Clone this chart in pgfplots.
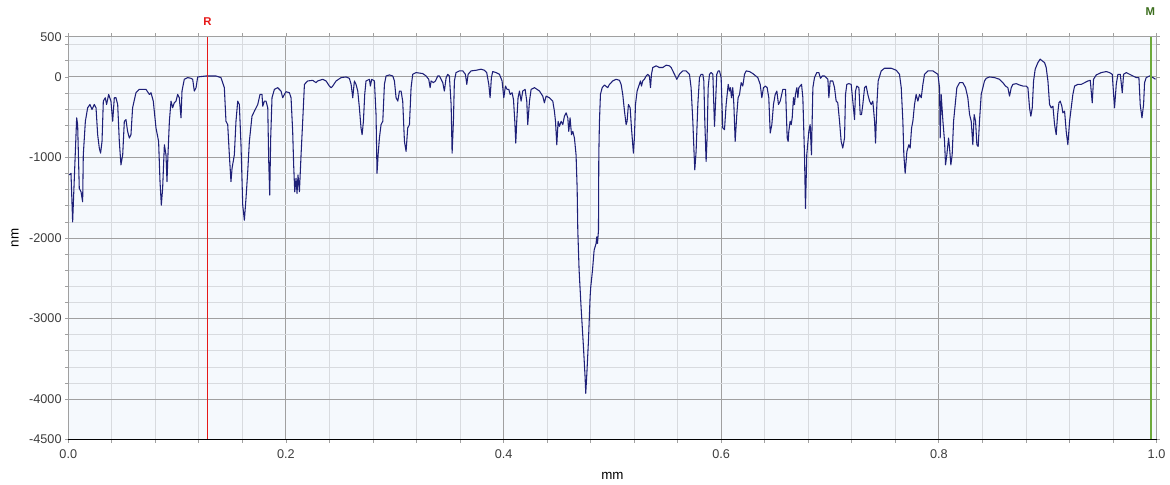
\documentclass[border=0pt]{standalone}
\usepackage{fontspec}
\setmainfont{Liberation Sans}
\usepackage{pgfplots}
\pgfplotsset{compat=1.18}
\usetikzlibrary{calc}
\definecolor{prof}{RGB}{30,32,120}
\definecolor{rred}{RGB}{230,25,25}
\definecolor{mgreen}{RGB}{110,170,60}
\definecolor{mtext}{RGB}{60,110,30}
\definecolor{bgblue}{RGB}{245,249,253}
\definecolor{gridmaj}{RGB}{160,160,160}
\definecolor{gridmin}{RGB}{216,219,223}
\definecolor{labgray}{RGB}{60,60,60}
\begin{document}
\begin{tikzpicture}
\begin{axis}[
  scale only axis, width=816pt, height=302pt,
  xmin=0, xmax=1, ymin=-4500, ymax=500,
  xtick={0,0.2,0.4,0.6,0.8,1},
  xticklabels={0.0,0.2,0.4,0.6,0.8,1.0},
  minor xtick={0.04,0.08,0.12,0.16,0.24,0.28,0.32,0.36,0.44,0.48,0.52,0.56,0.64,0.68,0.72,0.76,0.84,0.88,0.92,0.96},
  ytick={-4500,-4000,-3000,-2000,-1000,0,500},
  yticklabels={-4500,-4000,-3000,-2000,-1000,0,500},
  minor ytick={-3800,-3600,-3400,-3200,-2800,-2600,-2400,-2200,-1800,-1600,-1400,-1200,-800,-600,-400,-200,200,400},
  grid=both,
  major grid style={color=gridmaj, line width=0.8pt},
  minor grid style={color=gridmin, line width=0.6pt},
  axis background/.style={fill=bgblue},
  axis line style={gridmaj, line width=0.8pt},
  tick align=outside, major tick length=2.5pt, minor tick length=2.5pt,
  tick style={gridmaj, line width=0.6pt},
  tick label style={font=\fontsize{9.5}{11}\selectfont, text=labgray},
  /pgf/number format/assume math mode=true,
  xticklabel style={yshift=-2pt},
  yticklabel style={xshift=1pt},
  xlabel={mm}, ylabel={nm},
  label style={font=\fontsize{9}{11}\selectfont, text=labgray},
  every axis x label/.style={at={(axis description cs:0.5,0)}, anchor=center, yshift=-27pt},
  every axis y label/.style={at={(axis description cs:0,0.5)}, xshift=-40pt, anchor=center, rotate=90},
  clip=false,
]
\coordinate (A) at (rel axis cs:0,0);
\coordinate (B) at (rel axis cs:1,1);
\addplot[prof, line width=0.8pt, line join=round] table {
x y
0.0009 -1217
0.0025 -1196
0.0040 -1800
0.0077 -508
0.0086 -592
0.0101 -1383
0.0117 -1425
0.0132 -1550
0.0138 -967
0.0157 -550
0.0178 -383
0.0199 -342
0.0218 -404
0.0239 -342
0.0255 -383
0.0270 -717
0.0285 -883
0.0297 -946
0.0310 -800
0.0322 -300
0.0340 -258
0.0352 -342
0.0371 -217
0.0392 -300
0.0408 -550
0.0423 -258
0.0438 -258
0.0454 -342
0.0469 -800
0.0484 -1092
0.0500 -967
0.0515 -550
0.0530 -529
0.0545 -675
0.0561 -758
0.0576 -717
0.0591 -383
0.0622 -196
0.0653 -154
0.0714 -154
0.0745 -217
0.0760 -196
0.0781 -300
0.0806 -633
0.0830 -800
0.0843 -1300
0.0855 -1592
0.0867 -1383
0.0883 -842
0.0898 -967
0.0907 -1300
0.0916 -967
0.0929 -550
0.0944 -300
0.0959 -383
0.0974 -321
0.0990 -300
0.1005 -217
0.1020 -258
0.1036 -508
0.1045 -175
0.1066 -29
0.1097 -8
0.1128 -17
0.1143 -29
0.1158 -175
0.1174 -133
0.1189 0
0.1266 12
0.1357 12
0.1403 -8
0.1434 -133
0.1449 -550
0.1465 -592
0.1480 -967
0.1495 -1300
0.1505 -1133
0.1526 -967
0.1541 -550
0.1557 -300
0.1572 -342
0.1587 -842
0.1603 -1592
0.1618 -1779
0.1633 -1508
0.1649 -1175
0.1664 -800
0.1688 -488
0.1710 -425
0.1741 -342
0.1762 -217
0.1780 -217
0.1787 -363
0.1802 -300
0.1817 -300
0.1833 -383
0.1842 -1050
0.1851 -1467
0.1860 -758
0.1872 -258
0.1894 -154
0.1924 -133
0.1955 -175
0.1970 -258
0.1986 -217
0.2001 -183
0.2032 -196
0.2047 -258
0.2062 -675
0.2071 -1092
0.2081 -1425
0.2093 -1258
0.2102 -1446
0.2111 -1217
0.2124 -1425
0.2139 -967
0.2154 -550
0.2170 -92
0.2200 -50
0.2246 -42
0.2277 -71
0.2292 -50
0.2338 -29
0.2369 -50
0.2399 -113
0.2415 -133
0.2430 -113
0.2461 -50
0.2507 -8
0.2553 0
0.2583 -17
0.2599 -92
0.2614 -258
0.2629 -50
0.2644 -92
0.2660 -175
0.2675 -383
0.2690 -633
0.2700 -717
0.2712 -550
0.2724 -217
0.2736 -50
0.2767 -29
0.2776 -113
0.2788 -29
0.2813 -50
0.2828 -467
0.2837 -1196
0.2847 -967
0.2859 -758
0.2874 -592
0.2890 -550
0.2905 -92
0.2920 12
0.2951 25
0.2982 12
0.2997 -50
0.3012 -258
0.3028 -300
0.3043 -175
0.3058 -175
0.3073 -300
0.3089 -800
0.3104 -925
0.3119 -633
0.3135 -592
0.3150 -133
0.3165 33
0.3196 54
0.3257 42
0.3288 12
0.3312 -29
0.3325 -133
0.3334 -50
0.3355 -71
0.3374 -50
0.3395 12
0.3410 12
0.3426 -29
0.3441 -71
0.3456 -175
0.3472 -8
0.3487 33
0.3502 12
0.3518 -342
0.3527 -946
0.3539 -550
0.3548 -50
0.3563 54
0.3594 75
0.3625 75
0.3649 33
0.3662 -92
0.3674 33
0.3701 75
0.3747 83
0.3793 96
0.3824 83
0.3845 54
0.3864 -92
0.3876 -258
0.3888 -8
0.3900 67
0.3931 54
0.3962 33
0.3986 -50
0.4002 -258
0.4017 -113
0.4032 -154
0.4048 -154
0.4060 -217
0.4078 -196
0.4091 -279
0.4103 -550
0.4112 -821
0.4121 -550
0.4133 -258
0.4146 -175
0.4161 -300
0.4176 -175
0.4198 -154
0.4213 -300
0.4222 -592
0.4238 -300
0.4253 -154
0.4284 -133
0.4330 -175
0.4360 -238
0.4375 -321
0.4391 -238
0.4421 -258
0.4452 -300
0.4467 -425
0.4477 -550
0.4489 -842
0.4501 -550
0.4513 -613
0.4529 -550
0.4544 -592
0.4559 -488
0.4575 -446
0.4590 -508
0.4599 -675
0.4611 -508
0.4624 -717
0.4636 -675
0.4651 -758
0.4666 -967
0.4676 -1383
0.4682 -1904
0.4694 -2400
0.4712 -2856
0.4734 -3354
0.4749 -3728
0.4755 -3927
0.4765 -3686
0.4780 -3271
0.4795 -2731
0.4801 -2607
0.4817 -2400
0.4832 -2150
0.4850 -2067
0.4856 -1985
0.4863 -2067
0.4872 -1902
0.4875 -967
0.4881 -550
0.4890 -217
0.4906 -133
0.4927 -100
0.4957 -133
0.4973 -92
0.5003 -50
0.5034 -29
0.5065 -42
0.5080 -92
0.5095 -217
0.5111 -425
0.5126 -592
0.5135 -550
0.5147 -342
0.5163 -383
0.5175 -633
0.5187 -842
0.5193 -946
0.5202 -758
0.5212 -342
0.5227 -175
0.5242 -113
0.5258 -50
0.5267 -113
0.5279 -50
0.5294 -29
0.5310 12
0.5325 33
0.5340 12
0.5350 -133
0.5359 33
0.5371 117
0.5402 138
0.5432 117
0.5463 117
0.5494 146
0.5524 138
0.5540 117
0.5570 33
0.5592 -29
0.5616 33
0.5647 75
0.5677 75
0.5708 33
0.5723 -133
0.5739 -550
0.5751 -967
0.5757 -1154
0.5769 -925
0.5785 -342
0.5800 -8
0.5815 33
0.5831 33
0.5840 -50
0.5849 -550
0.5861 -1050
0.5870 -758
0.5880 -133
0.5892 33
0.5907 54
0.5923 33
0.5938 -613
0.5947 -342
0.5959 33
0.5972 75
0.5984 75
0.5999 -8
0.6014 -633
0.6030 -654
0.6045 -342
0.6064 -92
0.6076 -175
0.6085 -133
0.6094 -258
0.6106 -133
0.6116 -342
0.6128 -800
0.6143 -467
0.6155 -258
0.6168 -217
0.6183 -71
0.6198 -113
0.6214 33
0.6229 75
0.6260 67
0.6290 42
0.6336 -8
0.6358 -92
0.6373 -258
0.6388 -133
0.6407 -113
0.6422 -133
0.6437 -258
0.6450 -696
0.6465 -592
0.6480 -342
0.6496 -217
0.6511 -175
0.6526 -342
0.6542 -300
0.6566 -154
0.6591 -154
0.6606 -758
0.6615 -800
0.6621 -675
0.6633 -550
0.6643 -592
0.6652 -508
0.6664 -258
0.6673 -342
0.6682 -217
0.6695 -133
0.6704 -258
0.6713 -133
0.6725 -113
0.6738 -92
0.6750 -258
0.6765 -967
0.6774 -1633
0.6786 -967
0.6805 -675
0.6817 -592
0.6829 -967
0.6842 -133
0.6857 -8
0.6878 54
0.6897 54
0.6912 -17
0.6928 12
0.6949 12
0.6980 -29
0.6989 -258
0.7001 -50
0.7025 -50
0.7041 -133
0.7056 -300
0.7071 -321
0.7087 -550
0.7102 -800
0.7117 -883
0.7133 -758
0.7142 -217
0.7154 -92
0.7173 -83
0.7194 -92
0.7209 -300
0.7225 -529
0.7234 -175
0.7246 -113
0.7265 -133
0.7277 -467
0.7289 -467
0.7301 -342
0.7317 -133
0.7332 -113
0.7347 -217
0.7363 -300
0.7378 -342
0.7393 -300
0.7409 -550
0.7418 -821
0.7430 -342
0.7442 -50
0.7470 75
0.7500 108
0.7562 108
0.7608 83
0.7638 33
0.7654 -133
0.7669 -550
0.7678 -967
0.7690 -1196
0.7706 -925
0.7724 -842
0.7736 -883
0.7749 -633
0.7761 -550
0.7776 -342
0.7791 -217
0.7807 -300
0.7822 -217
0.7838 -258
0.7853 -92
0.7868 33
0.7899 75
0.7945 75
0.7991 33
0.8006 -133
0.8012 -758
0.8021 -217
0.8037 -550
0.8052 -800
0.8061 -1092
0.8073 -967
0.8089 -758
0.8098 -883
0.8110 -1092
0.8122 -967
0.8135 -550
0.8150 -342
0.8165 -133
0.8190 -71
0.8220 -71
0.8245 -133
0.8266 -258
0.8282 -467
0.8297 -550
0.8312 -842
0.8324 -467
0.8337 -550
0.8349 -842
0.8361 -863
0.8373 -550
0.8389 -217
0.8404 -133
0.8419 -50
0.8435 -17
0.8465 0
0.8511 -8
0.8557 -29
0.8588 -71
0.8612 -113
0.8634 -133
0.8649 -238
0.8665 -133
0.8680 -92
0.8711 -83
0.8741 -100
0.8772 -113
0.8802 -113
0.8818 -133
0.8833 -383
0.8845 -488
0.8858 -383
0.8870 -50
0.8885 96
0.8910 179
0.8931 221
0.8949 200
0.8971 179
0.8986 117
0.9002 -50
0.9017 -342
0.9032 -383
0.9048 -363
0.9063 -592
0.9078 -717
0.9091 -467
0.9103 -321
0.9115 -300
0.9130 -363
0.9139 -446
0.9155 -425
0.9170 -675
0.9185 -842
0.9201 -550
0.9216 -383
0.9231 -217
0.9247 -113
0.9277 -92
0.9308 -92
0.9339 -71
0.9369 -50
0.9391 -42
0.9409 -321
0.9421 -29
0.9446 25
0.9492 54
0.9538 67
0.9568 54
0.9593 33
0.9614 -383
0.9630 -92
0.9645 33
0.9667 33
0.9685 -196
0.9697 33
0.9722 54
0.9752 33
0.9783 12
0.9814 -8
0.9838 -8
0.9850 -342
0.9866 -508
0.9881 -342
0.9890 -71
0.9905 -8
0.9936 12
0.9967 -8
0.9991 -29
};
\draw[rred, line width=1.0pt] (axis cs:0.128,-4500) -- (axis cs:0.128,500);
\draw[mgreen, line width=1.3pt] (axis cs:0.9951,-4500) -- (axis cs:0.9951,500);
\draw[black, line width=1.3pt] (rel axis cs:0,0) -- (rel axis cs:1,0);
\node[font=\bfseries\fontsize{8.5}{10}\selectfont, text=rred] at (axis cs:0.128,500) [yshift=11pt] {R};
\node[font=\bfseries\fontsize{8.5}{10}\selectfont, text=mtext] at (axis cs:0.9942,500) [yshift=18.5pt] {M};
\end{axis}
\pgfresetboundingbox
\path[use as bounding box] ($(A)+(-51.2pt,-33.5pt)$) rectangle ($(B)+(10.1pt,27.5pt)$);
\end{tikzpicture}
\end{document}
